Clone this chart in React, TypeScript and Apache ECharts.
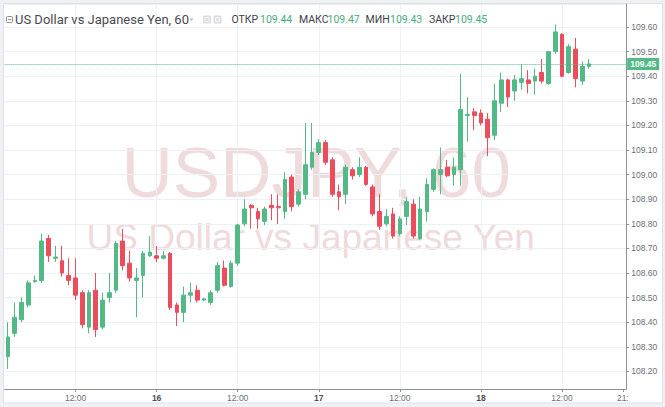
import React, { useEffect, useRef } from "react";
import * as echarts from "echarts";

// ---- data -------------------------------------------------------------
const startDay = 15; // first candle: 15th, 02:00
const startHour = 2;
const slotCount = 92; // hourly slots shown on the axis (15th 02:00 .. 18th 21:00)

// hourly candles: [open, close, low, high]
const ohlc: number[][] = [
  [108.26, 108.34, 108.21, 108.4],
  [108.355, 108.42, 108.34, 108.48],
  [108.41, 108.48, 108.4, 108.5],
  [108.47, 108.56, 108.46, 108.57],
  [108.565, 108.57, 108.56, 108.59],
  [108.57, 108.73, 108.56, 108.76],
  [108.74, 108.67, 108.645, 108.755],
  [108.66, 108.665, 108.645, 108.71],
  [108.65, 108.6, 108.585, 108.71],
  [108.59, 108.57, 108.55, 108.66],
  [108.58, 108.51, 108.49, 108.66],
  [108.52, 108.39, 108.375, 108.53],
  [108.38, 108.52, 108.355, 108.53],
  [108.53, 108.37, 108.34, 108.6],
  [108.38, 108.49, 108.37, 108.52],
  [108.5, 108.52, 108.48, 108.6],
  [108.53, 108.72, 108.52, 108.73],
  [108.73, 108.63, 108.61, 108.78],
  [108.64, 108.58, 108.565, 108.69],
  [108.57, 108.58, 108.42, 108.62],
  [108.59, 108.68, 108.5, 108.69],
  [108.67, 108.685, 108.665, 108.75],
  [108.67, 108.66, 108.645, 108.71],
  [108.66, 108.67, 108.655, 108.69],
  [108.68, 108.46, 108.45, 108.685],
  [108.47, 108.44, 108.385, 108.48],
  [108.44, 108.51, 108.4, 108.545],
  [108.51, 108.52, 108.48, 108.56],
  [108.53, 108.49, 108.48, 108.55],
  [108.49, 108.495, 108.485, 108.5],
  [108.48, 108.52, 108.47, 108.53],
  [108.53, 108.63, 108.52, 108.645],
  [108.62, 108.55, 108.545, 108.65],
  [108.545, 108.64, 108.54, 108.65],
  [108.64, 108.795, 108.63, 108.8],
  [108.8, 108.86, 108.79, 108.9],
  [108.875, 108.865, 108.78, 108.88],
  [108.85, 108.82, 108.78, 108.865],
  [108.81, 108.86, 108.795, 108.87],
  [108.875, 108.865, 108.815, 108.92],
  [108.87, 108.865, 108.8, 108.92],
  [108.85, 108.98, 108.82, 109.01],
  [108.99, 108.87, 108.85, 109.0],
  [108.88, 108.93, 108.87, 108.94],
  [108.92, 109.04, 108.9, 109.21],
  [109.03, 109.09, 109.02, 109.21],
  [109.09, 109.13, 109.08, 109.145],
  [109.13, 109.05, 109.04, 109.14],
  [109.06, 108.92, 108.91, 109.07],
  [108.93, 108.91, 108.855, 108.96],
  [108.92, 109.03, 108.88, 109.04],
  [109.02, 108.995, 108.98, 109.03],
  [109.0, 109.03, 108.99, 109.07],
  [109.03, 108.96, 108.955, 109.035],
  [108.95, 108.84, 108.83, 108.96],
  [108.85, 108.79, 108.775, 108.92],
  [108.8, 108.83, 108.79, 108.86],
  [108.84, 108.75, 108.74, 108.865],
  [108.76, 108.82, 108.75, 108.83],
  [108.83, 108.89, 108.795, 108.91],
  [108.88, 108.75, 108.74, 108.9],
  [108.74, 108.86, 108.735, 108.91],
  [108.85, 108.96, 108.81, 108.985],
  [108.94, 109.02, 108.93, 109.025],
  [109.0, 109.02, 108.92, 109.11],
  [109.03, 108.995, 108.99, 109.06],
  [109.0, 109.03, 108.955, 109.07],
  [109.02, 109.265, 108.955, 109.41],
  [109.24, 109.245, 109.135, 109.315],
  [109.255, 109.24, 109.18, 109.27],
  [109.25, 109.21, 109.2, 109.265],
  [109.225, 109.15, 109.075, 109.25],
  [109.16, 109.3, 109.14, 109.37],
  [109.29, 109.385, 109.255, 109.415],
  [109.385, 109.315, 109.275, 109.39],
  [109.34, 109.385, 109.3, 109.405],
  [109.375, 109.39, 109.345, 109.45],
  [109.385, 109.37, 109.33, 109.425],
  [109.38, 109.4, 109.325, 109.43],
  [109.415, 109.38, 109.37, 109.47],
  [109.37, 109.5, 109.365, 109.5],
  [109.5, 109.58, 109.49, 109.61],
  [109.57, 109.4, 109.395, 109.575],
  [109.415, 109.52, 109.41, 109.53],
  [109.51, 109.39, 109.355, 109.555],
  [109.38, 109.44, 109.365, 109.46],
  [109.44, 109.45, 109.43, 109.47],
];

const symbolTitle = "US Dollar vs Japanese Yen, 60";
const watermarkTicker = "USDJPY, 60";
const watermarkName = "US Dollar vs Japanese Yen";
const headerLabels = ["ОТКР", "МАКС", "МИН", "ЗАКР"];

// ---- styles -----------------------------------------------------------
const GREEN = "#53b987";
const RED = "#eb4d5c";
const GRID = "#edf0f5";
const AXIS = "#8e9198";
const LABEL = "#6b6e78";

const categories: string[] = Array.from({ length: slotCount }, (_, i) => {
  const t = startHour + i;
  const d = startDay + Math.floor(t / 24);
  const h = t % 24;
  return `${d} ${String(h).padStart(2, "0")}:00`;
});

const isMajor = (v: string) => {
  const hm = v.split(" ")[1];
  return hm === "00:00" || hm === "12:00";
};

export default function App() {
  const ref = useRef<HTMLDivElement>(null);

  useEffect(() => {
    if (!ref.current) return;
    const chart = echarts.init(ref.current, undefined, { renderer: "svg" });

    const last = ohlc[ohlc.length - 1];
    const lastClose = last[1];
    const headerValues = [last[0], last[3], last[2], last[1]].map((v) => v.toFixed(2));
    const labelX = [231.5, 299, 365.5, 429];
    const valueX = [260, 327.5, 390, 455];

    const headerTexts: any[] = [];
    headerLabels.forEach((t, i) => {
      headerTexts.push({
        type: "text",
        x: labelX[i],
        y: 19.7,
        z: 100,
        silent: true,
        style: {
          text: t,
          fill: "#3e4149",
          font: "10.5px Roboto, sans-serif",
          verticalAlign: "middle",
          align: "left",
        },
      });
      headerTexts.push({
        type: "text",
        x: valueX[i],
        y: 19.7,
        z: 100,
        silent: true,
        style: {
          text: headerValues[i],
          fill: "#4bad7f",
          font: "10.5px Roboto, sans-serif",
          verticalAlign: "middle",
          align: "left",
        },
      });
    });

    const option: any = {
      animation: false,
      backgroundColor: "#eff1f4",
      grid: {
        left: 4.6,
        right: 38.8,
        top: 4,
        bottom: 18,
        containLabel: false,
        outerBoundsMode: "none",
      },
      xAxis: {
        type: "category",
        data: categories,
        boundaryGap: true,
        axisLine: { show: true, lineStyle: { color: AXIS, width: 1 } },
        axisTick: {
          show: true,
          alignWithLabel: true,
          length: 3,
          lineStyle: { color: AXIS },
          interval: (i: number, v: string) => isMajor(v) || i === slotCount - 1,
        },
        axisLabel: {
          show: true,
          margin: 4,
          fontSize: 8.5,
          color: LABEL,
          fontFamily: "Liberation Sans, Arial, sans-serif",
          interval: (i: number, v: string) => isMajor(v) || i === slotCount - 1,
          formatter: (v: string, i: number) => {
            const [d, hm] = v.split(" ");
            if (hm === "00:00") return `{b|${d}}`;
            if (i === slotCount - 1) return hm.slice(0, 3);
            return hm;
          },
          rich: {
            b: {
              fontSize: 8.5,
              fontWeight: "bold",
              color: "#4a4d57",
              fontFamily: "Liberation Sans, Arial, sans-serif",
            },
          },
        },
        splitLine: {
          show: true,
          alignWithLabel: true,
          interval: (i: number, v: string) => isMajor(v),
          lineStyle: { color: GRID, width: 1 },
        },
      },
      yAxis: {
        type: "value",
        position: "right",
        scale: true,
        min: 108.1285,
        max: 109.6935,
        splitNumber: 15,
        minInterval: 0.1,
        maxInterval: 0.1,
        axisLine: { show: true, lineStyle: { color: AXIS, width: 1 } },
        axisTick: { show: true, length: 3, lineStyle: { color: AXIS } },
        axisLabel: {
          show: true,
          margin: 5,
          fontSize: 8.5,
          color: LABEL,
          fontFamily: "Liberation Sans, Arial, sans-serif",
          showMinLabel: false,
          showMaxLabel: false,
          formatter: (v: number) => v.toFixed(2),
        },
        splitLine: { show: true, lineStyle: { color: GRID, width: 1 } },
      },
      series: [
        {
          type: "candlestick",
          data: ohlc,
          barWidth: 4.2,
          itemStyle: {
            color: GREEN,
            color0: RED,
            borderColor: GREEN,
            borderColor0: RED,
            borderColorDoji: GREEN,
            borderWidth: 1,
          },
          markLine: {
            silent: true,
            symbol: ["none", "none"],
            animation: false,
            data: [{ yAxis: lastClose }],
            lineStyle: { color: GREEN, type: "dotted", width: 1 },
            label: {
              show: true,
              position: "end",
              distance: 1,
              formatter: lastClose.toFixed(2),
              backgroundColor: GREEN,
              color: "#ffffff",
              fontSize: 8.5,
              fontWeight: "bold",
              fontFamily: "Liberation Sans, Arial, sans-serif",
              padding: [2, 3, 1, 3],
            },
            emphasis: { disabled: true },
          },
        },
      ],
      graphic: [
        {
          type: "rect",
          z: -100,
          silent: true,
          shape: { x: 3.5, y: 3.5, width: 659, height: 399.5 },
          style: { fill: "#ffffff", stroke: "#dcdfe4", lineWidth: 1 },
        },
        {
          type: "text",
          z: -50,
          silent: true,
          x: 121.5,
          y: 172,
          style: {
            text: watermarkTicker,
            fill: "#efdadc",
            font: "71px 'Liberation Sans', Arial, sans-serif",
            verticalAlign: "middle",
            align: "left",
          },
        },
        {
          type: "text",
          z: -50,
          silent: true,
          x: 86.5,
          y: 237,
          style: {
            text: watermarkName,
            fill: "#efdadc",
            font: "37px 'Liberation Sans', Arial, sans-serif",
            verticalAlign: "middle",
            align: "left",
          },
        },
        // collapse icon
        {
          type: "rect",
          z: 100,
          silent: true,
          shape: { x: 6.5, y: 16.5, width: 6, height: 6, r: 1 },
          style: { fill: "none", stroke: "#8a8d95", lineWidth: 1 },
        },
        {
          type: "line",
          z: 100,
          silent: true,
          shape: { x1: 8, y1: 19.5, x2: 11, y2: 19.5 },
          style: { stroke: "#8a8d95", lineWidth: 1 },
        },
        {
          type: "text",
          z: 100,
          silent: true,
          x: 15,
          y: 19.5,
          style: {
            text: symbolTitle,
            fill: "#4a4a4f",
            font: "13px Roboto, sans-serif",
            verticalAlign: "middle",
            align: "left",
          },
        },
        {
          type: "polygon",
          z: 100,
          silent: true,
          shape: { points: [[189.5, 18.5], [193.5, 18.5], [191.5, 21]] },
          style: { fill: "#b4b7be" },
        },
        {
          type: "rect",
          z: 100,
          silent: true,
          shape: { x: 203, y: 15.5, width: 8, height: 8, r: 1 },
          style: { fill: "#dadce1" },
        },
        {
          type: "circle",
          z: 100,
          silent: true,
          shape: { cx: 207, cy: 19.5, r: 2.2 },
          style: { fill: "none", stroke: "#ffffff", lineWidth: 1 },
        },
        {
          type: "rect",
          z: 100,
          silent: true,
          shape: { x: 213.5, y: 15.5, width: 8, height: 8, r: 1 },
          style: { fill: "#dadce1" },
        },
        {
          type: "rect",
          z: 100,
          silent: true,
          shape: { x: 215.7, y: 17.7, width: 3.6, height: 3.6 },
          style: { fill: "none", stroke: "#ffffff", lineWidth: 1 },
        },
        ...headerTexts,
      ],
    };

    chart.setOption(option);
    return () => {
      chart.dispose();
    };
  }, []);

  return (
    <div
      ref={ref}
      style={{ position: "fixed", left: 0, top: 0, width: 665, height: 407 }}
    />
  );
}
